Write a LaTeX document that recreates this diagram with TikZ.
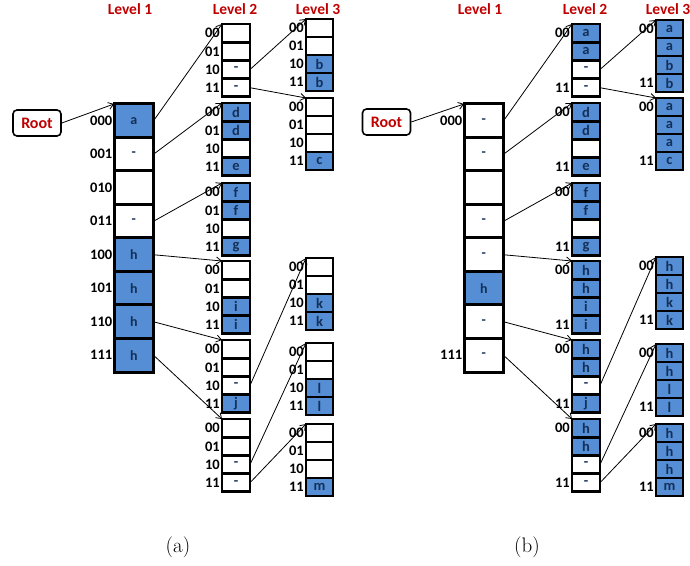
\documentclass[tikz,border=0pt]{standalone}
\usepackage{fontspec}
\newfontfamily\calib{Carlito}
\usetikzlibrary{arrows.meta}
\definecolor{cellblue}{RGB}{85,142,213}
\definecolor{navy}{RGB}{20,48,88}
\definecolor{titlered}{RGB}{192,0,0}
\tikzset{
  cellA/.style={draw=black, line width=3pt, minimum width=39.5pt, minimum height=33.6pt, inner sep=0pt, outer sep=0pt, font=\calib\bfseries\fontsize{14}{16}\selectfont, text=navy},
  cellB/.style={draw=black, line width=2.8pt, minimum width=28pt, minimum height=18.2pt, inner sep=0pt, outer sep=0pt, font=\calib\bfseries\fontsize{14.5}{16}\selectfont, text=navy},
  cellC/.style={cellB, minimum width=27pt, minimum height=18pt},
  B/.style={fill=cellblue},
  W/.style={fill=white},
  idx/.style={anchor=east, inner sep=0pt, font=\calib\bfseries\fontsize{14.5}{16}\selectfont, text=black},
  title/.style={inner sep=0pt, font=\calib\bfseries\fontsize{15.5}{18}\selectfont, text=titlered},
  rootbox/.style={draw=black, line width=1.6pt, rounded corners=4pt, minimum width=48pt, minimum height=26pt, inner sep=0pt, font=\calib\bfseries\fontsize{16}{19}\selectfont, text=titlered},
  link/.style={line width=0.8pt, -{Straight Barb[length=5pt,width=7pt]}},
  caption/.style={inner sep=0pt, font=\fontsize{21}{25}\selectfont}
}
\newcommand{\mktable}[6]{%
  \foreach \s/\t [count=\i] in {#6} {
    \node[#5,\s] (#1-\i) at (#2,{#3+(\i-0.5)*#4}) {\t};
  }}
\begin{document}
\begin{tikzpicture}[x=1pt,y=-1pt]
\useasboundingbox (0,0) rectangle (690,565);
% ================= (a) =================
\node[title] (a-lv1) at (130,9) {Level 1};
\node[title] (a-lv2) at (235,9) {Level 2};
\node[title] (a-lv3) at (318,9) {Level 3};
\node[rootbox] (a-root) at (37,123) {Root};
\mktable{a1}{133.8}{104}{33.5}{cellA}{B/a, W/-, W/{}, W/-, B/h, B/h, B/h, B/h}
\mktable{a2t1}{236}{24}{18.2}{cellB}{W/{}, W/{}, W/-, W/-}
\mktable{a2t2}{236}{103}{18.2}{cellB}{B/d, B/d, W/{}, B/e}
\mktable{a2t3}{236}{183}{18.2}{cellB}{B/f, B/f, W/{}, B/g}
\mktable{a2t4}{236}{261}{18.2}{cellB}{W/{}, W/{}, B/i, B/i}
\mktable{a2t5}{236}{340}{18.2}{cellB}{W/{}, W/{}, W/-, B/j}
\mktable{a2t6}{236}{419}{18.2}{cellB}{W/{}, W/{}, W/-, W/-}
\mktable{a3t1}{319.5}{19}{18}{cellC}{W/{}, W/{}, B/b, B/b}
\mktable{a3t2}{319.5}{98}{18}{cellC}{W/{}, W/{}, W/{}, B/c}
\mktable{a3t3}{319.5}{258}{18}{cellC}{W/{}, W/{}, B/k, B/k}
\mktable{a3t4}{319.5}{343}{18}{cellC}{W/{}, W/{}, B/l, B/l}
\mktable{a3t5}{319.5}{424}{18}{cellC}{W/{}, W/{}, W/{}, B/m}
\foreach \l [count=\i] in {000,001,010,011,100,101,110,111}
  \node[idx] (a1l\i) at ([xshift=-1.6pt]a1-\i.west) {\l};
\foreach \t in {1,...,6}
  \foreach \l [count=\i] in {00,01,10,11}
    \node[idx] (a2t\t l\i) at ([xshift=-2pt]a2t\t-\i.west) {\l};
\foreach \t in {1,...,5}
  \foreach \l [count=\i] in {00,01,10,11}
    \node[idx] (a3t\t l\i) at ([xshift=-2pt]a3t\t-\i.west) {\l};
\draw[link] (a-root.east) -- (a1-1.north west);
\draw[link] (a1-1.east) -- (a2t1-1.north west);
\draw[link] (a1-2.east) -- (a2t2-1.north west);
\draw[link] (a1-4.east) -- (a2t3-1.north west);
\draw[link] (a1-5.east) -- (a2t4-1.north west);
\draw[link] (a1-7.east) -- (a2t5-1.north west);
\draw[link] (a1-8.east) -- (a2t6-1.north west);
\draw[link] (a2t1-3.east) -- (a3t1-1.north west);
\draw[link] (a2t1-4.east) -- (a3t2-1.north west);
\draw[link] (a2t5-3.east) -- (a3t3-1.north west);
\draw[link] (a2t6-3.east) -- (a3t4-1.north west);
\draw[link] (a2t6-4.east) -- (a3t5-1.north west);
\node[caption] (capa) at (178,547) {(a)};
% ================= (b) =================
\begin{scope}[xshift=350pt]
\node[title] (b-lv1) at (130,9) {Level 1};
\node[title] (b-lv2) at (235,9) {Level 2};
\node[title] (b-lv3) at (318,9) {Level 3};
\node[rootbox] (b-root) at (36.5,122) {Root};
\mktable{b1}{133.8}{104}{33.5}{cellA}{W/-, W/-, W/{}, W/-, W/-, B/h, W/-, W/-}
\mktable{b2t1}{236}{24}{18.2}{cellB}{B/a, B/a, W/-, W/-}
\mktable{b2t2}{236}{103}{18.2}{cellB}{B/d, B/d, W/{}, B/e}
\mktable{b2t3}{236}{183}{18.2}{cellB}{B/f, B/f, W/{}, B/g}
\mktable{b2t4}{236}{261}{18.2}{cellB}{B/h, B/h, B/i, B/i}
\mktable{b2t5}{236}{340}{18.2}{cellB}{B/h, B/h, W/-, B/j}
\mktable{b2t6}{236}{419}{18.2}{cellB}{B/h, B/h, W/-, W/-}
\mktable{b3t1}{319.5}{20}{18}{cellC}{B/a, B/a, B/b, B/b}
\mktable{b3t2}{319.5}{98}{18}{cellC}{B/a, B/a, B/a, B/c}
\mktable{b3t3}{319.5}{257}{18}{cellC}{B/h, B/h, B/k, B/k}
\mktable{b3t4}{319.5}{344}{18}{cellC}{B/h, B/h, B/l, B/l}
\mktable{b3t5}{319.5}{424}{18}{cellC}{B/h, B/h, B/h, B/m}
\node[idx] (b1l1) at ([xshift=-1.6pt]b1-1.west) {000};
\node[idx] (b1l8) at ([xshift=-1.6pt]b1-8.west) {111};
\foreach \t in {1,...,6}{
  \node[idx] (b2t\t l1) at ([xshift=-2pt]b2t\t-1.west) {00};
  \node[idx] (b2t\t l4) at ([xshift=-2pt]b2t\t-4.west) {11};
}
\foreach \t in {1,...,5}{
  \node[idx] (b3t\t l1) at ([xshift=-2pt]b3t\t-1.west) {00};
  \node[idx] (b3t\t l4) at ([xshift=-2pt]b3t\t-4.west) {11};
}
\draw[link] (b-root.east) -- (b1-1.north west);
\draw[link] (b1-1.east) -- (b2t1-1.north west);
\draw[link] (b1-2.east) -- (b2t2-1.north west);
\draw[link] (b1-4.east) -- (b2t3-1.north west);
\draw[link] (b1-5.east) -- (b2t4-1.north west);
\draw[link] (b1-7.east) -- (b2t5-1.north west);
\draw[link] (b1-8.east) -- (b2t6-1.north west);
\draw[link] (b2t1-3.east) -- (b3t1-1.north west);
\draw[link] (b2t1-4.east) -- (b3t2-1.north west);
\draw[link] (b2t5-3.east) -- (b3t3-1.north west);
\draw[link] (b2t6-3.east) -- (b3t4-1.north west);
\draw[link] (b2t6-4.east) -- (b3t5-1.north west);
\node[caption] (capb) at (177,547) {(b)};
\end{scope}
\end{tikzpicture}
\end{document}
